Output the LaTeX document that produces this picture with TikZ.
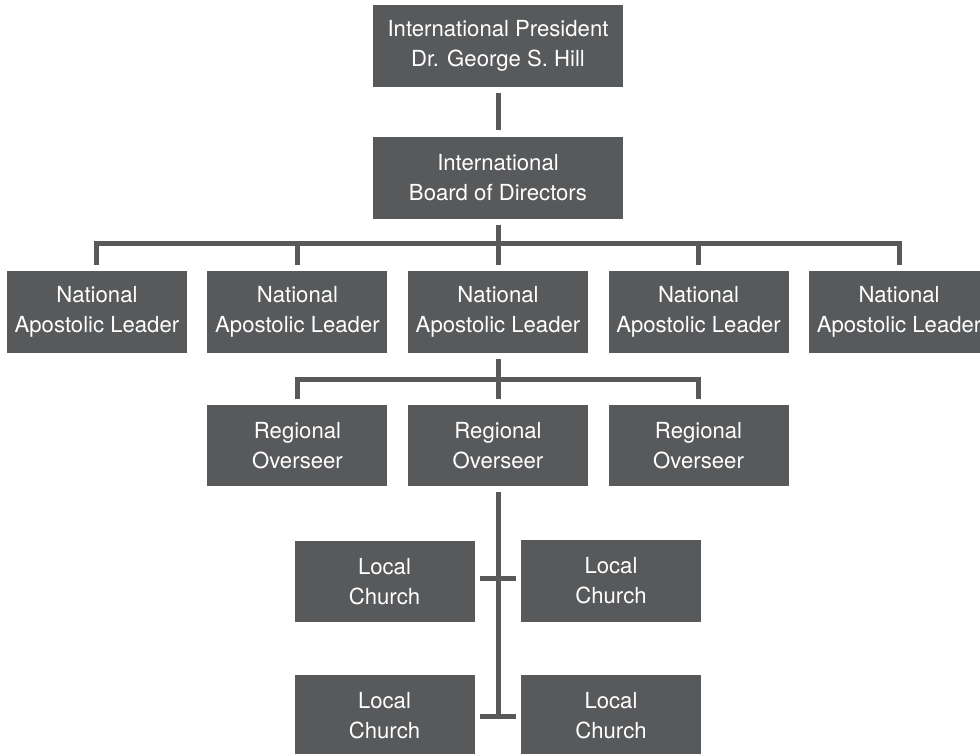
\documentclass[tikz,border=0pt]{standalone}
\usepackage{fontspec}
\setmainfont{TeX Gyre Heros}
\usepackage{tikz}
\usetikzlibrary{positioning}
\usepackage{xcolor}
\definecolor{cBox}{RGB}{88,89,91}
\definecolor{cLine}{RGB}{88,89,91}
\tikzset{
  basebox/.style={rectangle,fill=cBox,text=white,align=center,inner sep=0pt,
                  font=\fontsize{16.6}{22.5}\selectfont},
  widenode/.style={basebox,minimum width=187.5pt,minimum height=61.5pt},
  orgnode/.style={basebox,minimum width=135pt,minimum height=61pt},
  link/.style={line width=3.75pt,color=cLine},
  gapboth/.style={shorten <=4.5pt,shorten >=4.5pt}
}

\begin{document}
\begin{tikzpicture}[x=0.75pt,y=-0.75pt]
  \useasboundingbox (0,0) rectangle (980,753);

  \node[widenode] (pres) at (498,46) {International President\\Dr. George S. Hill};
  \node[widenode] (board) at (498,177.5) {International\\Board of Directors};

  % national leaders
  \node[orgnode] (nal3) at (498,312) {National\\Apostolic Leader};
  \node[orgnode,left=15pt of nal3] (nal2) {National\\Apostolic Leader};
  \node[orgnode,left=15pt of nal2] (nal1) {National\\Apostolic Leader};
  \node[orgnode,right=15pt of nal3] (nal4) {National\\Apostolic Leader};
  \node[orgnode,right=15pt of nal4] (nal5) {National\\Apostolic Leader};

  % regional overseers
  \node[orgnode] (reg2) at (498,445.5) {Regional\\Overseer};
  \node[orgnode,left=15pt of reg2] (reg1) {Regional\\Overseer};
  \node[orgnode,right=15pt of reg2] (reg3) {Regional\\Overseer};

  % local churches
  \node[orgnode] (loc1) at (384.5,581.5) {Local\\Church};
  \node[orgnode] (loc2) at (611,581) {Local\\Church};
  \node[orgnode] (loc3) at (384.5,716) {Local\\Church};
  \node[orgnode] (loc4) at (611,716) {Local\\Church};

  \coordinate (busA) at (498,243);
  \coordinate (busB) at (498,379);
  \coordinate (tA) at (498,578);
  \coordinate (tB) at (498,716);

  \draw[link,gapboth] (pres) -- (board);
  \draw[link,gapboth] (board) -- (nal3);
  \draw[link,gapboth] (nal1.north) |- (busA) -| (nal5.north);
  \draw[link,shorten <=4.5pt] (nal2.north) -- (nal2.north |- busA);
  \draw[link,shorten <=4.5pt] (nal4.north) -- (nal4.north |- busA);
  \draw[link,gapboth] (nal3) -- (reg2);
  \draw[link,shorten <=4pt,shorten >=4pt] (reg1.north) |- (busB) -| (reg3.north);
  \draw[link,shorten <=4.5pt] (reg2) -- (tB);
  \draw[link,shorten <=3.75pt,shorten >=3.75pt] (loc1.east |- tA) -- (loc2.west |- tA);
  \draw[link,shorten <=3.75pt,shorten >=3.75pt] (loc3.east |- tB) -- (loc4.west |- tB);

\end{tikzpicture}
\end{document}
